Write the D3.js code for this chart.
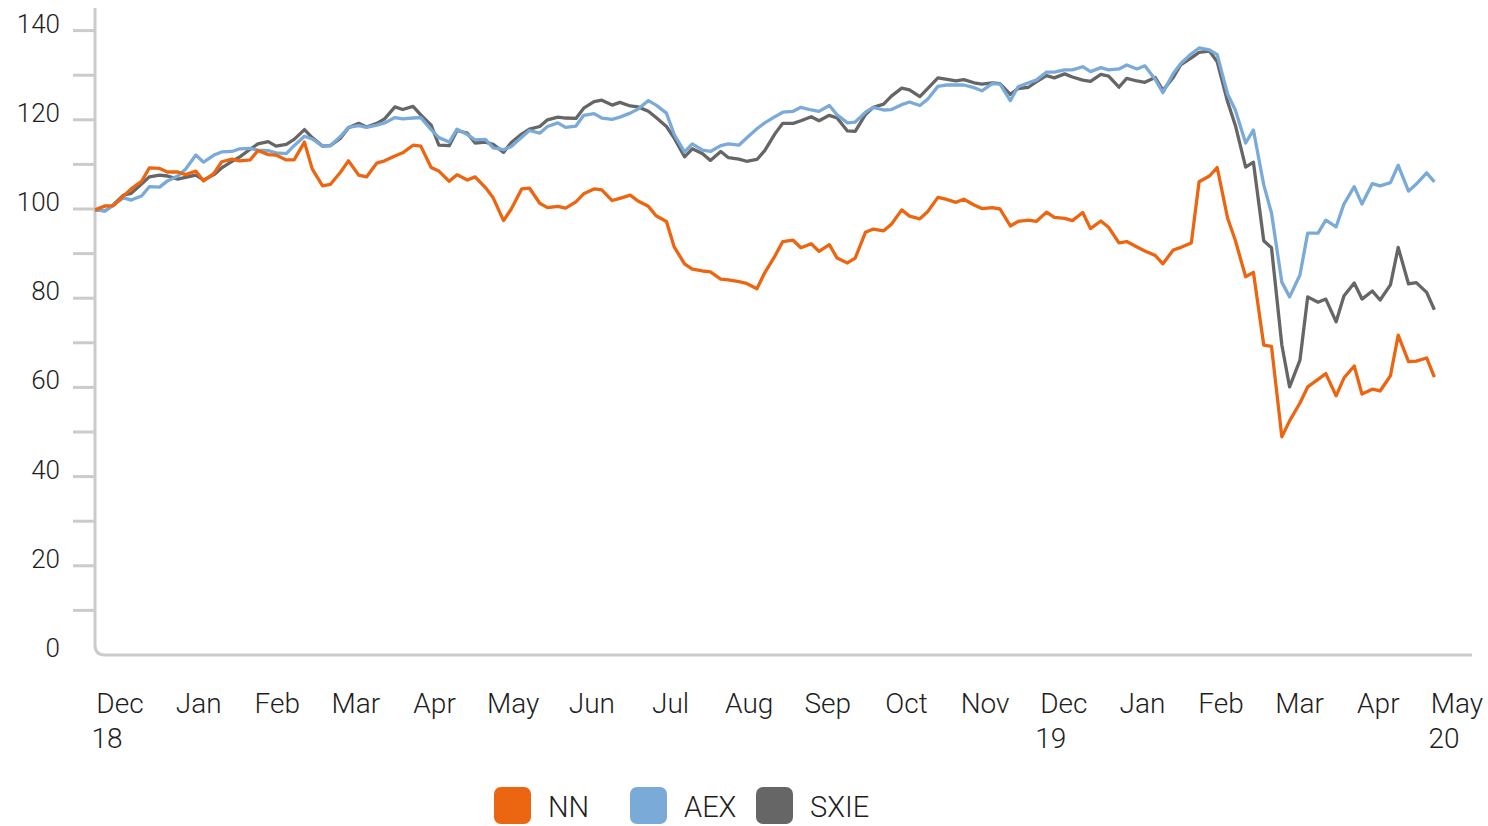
<!DOCTYPE html>
<html>
<head>
<meta charset="utf-8">
<script src="https://cdn.jsdelivr.net/npm/d3@7"></script>
<style>
  html, body { margin: 0; padding: 0; background: #fff; }
  svg text { font-family: Roboto, "Open Sans", sans-serif; font-weight: 300; fill: #1e1e1e; }
</style>
</head>
<body>
<div id="chart"></div>
<script>
// trading dates sampled twice a week (Tue + Fri), 30 Nov 2018 .. 1 May 2020
const dates = d3.utcDay.range(new Date("2018-11-30"), new Date("2020-05-02"))
    .filter(d => d.getUTCDay() === 2 || d.getUTCDay() === 5);

const nnValues = [
  99.8, 100.7, 100.7, 102.9, 104.5, 106.2, 109.2, 109.1, 108.3, 108.3,
  107.7, 108.5, 106.3, 108.0, 110.6, 111.2, 110.8, 111.0, 113.1, 112.2,
  112.1, 111.0, 111.0, 115.0, 109.0, 105.2, 105.5, 108.3, 110.8, 107.6,
  107.2, 110.3, 110.8, 111.9, 112.6, 114.3, 114.1, 109.3, 108.5, 106.2,
  107.7, 106.5, 107.2, 104.8, 102.5, 97.4, 100.0, 104.5, 104.7, 101.3,
  100.3, 100.6, 100.2, 101.6, 103.4, 104.5, 104.3, 101.9, 102.4, 103.1,
  101.8, 100.6, 98.5, 97.2, 91.5, 87.7, 86.5, 86.1, 85.9, 84.3,
  84.1, 83.7, 83.3, 82.1, 85.7, 89.5, 92.7, 93.0, 91.3, 92.2,
  90.5, 92.0, 89.0, 87.9, 89.0, 94.8, 95.5, 95.1, 96.6, 99.8,
  98.4, 97.8, 99.4, 102.6, 102.2, 101.5, 102.2, 100.9, 100.1, 100.3,
  100.0, 96.2, 97.2, 97.5, 97.2, 99.3, 98.1, 97.9, 97.4, 99.2,
  95.6, 97.3, 95.9, 92.4, 92.7, 91.5, 90.6, 89.6, 87.7, 90.8,
  91.4, 92.4, 106.1, 107.4, 109.3, 98.0, 93.0, 84.8, 85.8, 69.5,
  69.2, 48.9, 52.5, 56.5, 60.1, 61.8, 63.1, 58.1, 62.1, 64.8,
  58.5, 59.6, 59.2, 62.6, 71.7, 65.8, 65.9, 66.6, 62.3
];

const aexValues = [
  99.8, 99.6, 100.9, 102.5, 102.0, 102.9, 105.0, 104.9, 106.3, 107.4,
  108.9, 112.1, 110.5, 112.1, 112.8, 112.9, 113.5, 113.6, 113.2, 113.1,
  112.6, 112.4, 114.2, 116.3, 115.7, 114.1, 114.2, 116.3, 118.3, 118.7,
  118.3, 118.8, 119.3, 120.5, 120.2, 120.4, 120.5, 117.8, 116.0, 115.0,
  117.9, 116.7, 115.5, 115.6, 113.7, 113.3, 114.0, 116.1, 117.6, 117.0,
  118.5, 119.3, 118.3, 118.6, 121.0, 121.4, 120.4, 120.1, 120.6, 121.5,
  122.4, 124.3, 123.3, 121.5, 116.7, 112.8, 114.6, 113.2, 112.9, 114.2,
  114.6, 114.3, 115.9, 118.0, 119.3, 120.7, 121.7, 121.9, 122.8, 122.2,
  121.9, 123.2, 121.1, 119.3, 119.5, 121.7, 122.8, 122.2, 122.3, 123.4,
  124.0, 123.2, 124.6, 127.5, 127.8, 127.8, 127.8, 127.2, 126.5, 128.1,
  128.0, 124.3, 127.4, 128.3, 128.9, 130.7, 130.7, 131.2, 131.2, 131.9,
  130.8, 131.7, 131.2, 131.4, 132.3, 131.4, 132.1, 129.1, 126.1, 130.4,
  132.7, 134.8, 136.1, 135.7, 134.6, 125.8, 122.2, 114.8, 117.7, 105.4,
  99.1, 83.6, 80.3, 85.2, 94.6, 94.6, 97.5, 96.0, 101.1, 105.0,
  101.1, 105.7, 105.2, 105.9, 109.8, 104.0, 105.6, 108.1, 106.1
];

const sxieValues = [
  99.8, 99.6, 100.9, 103.1, 103.5, 105.6, 107.2, 107.6, 107.4, 106.7,
  107.1, 107.6, 106.5, 107.7, 109.2, 110.7, 111.7, 113.4, 114.6, 115.1,
  114.1, 114.5, 115.6, 117.8, 116.0, 114.1, 114.2, 115.9, 118.2, 119.2,
  118.4, 119.2, 120.2, 122.9, 122.3, 123.0, 121.1, 118.8, 114.3, 114.2,
  117.6, 117.0, 114.8, 115.0, 114.5, 112.7, 114.9, 116.8, 117.9, 118.5,
  120.0, 120.6, 120.4, 120.3, 122.6, 124.1, 124.4, 123.3, 123.9, 123.1,
  122.9, 121.9, 120.5, 118.5, 115.9, 111.7, 113.5, 112.4, 110.9, 112.9,
  111.5, 111.2, 110.7, 111.1, 113.1, 116.9, 119.2, 119.2, 119.8, 120.7,
  119.8, 121.0, 120.4, 117.5, 117.4, 121.2, 122.8, 123.5, 125.3, 127.1,
  126.7, 125.2, 127.0, 129.4, 129.1, 128.7, 129.0, 128.3, 128.0, 128.3,
  128.1, 125.7, 127.0, 127.3, 128.5, 129.9, 129.4, 130.3, 129.6, 128.9,
  128.6, 130.2, 129.8, 127.3, 129.3, 128.7, 128.4, 129.5, 126.6, 129.5,
  132.4, 133.9, 135.1, 135.4, 133.0, 124.1, 118.8, 109.4, 110.5, 92.9,
  91.3, 69.5, 60.1, 66.1, 80.3, 79.1, 79.8, 74.7, 80.5, 83.4,
  79.8, 81.6, 79.6, 83.0, 91.4, 83.2, 83.5, 81.3, 77.4
];

const seriesNames = ["NN", "AEX", "SXIE"];
const seriesColors = ["#ec6510", "#7aaad8", "#666666"];

const yTicks = [0, 20, 40, 60, 80, 100, 120, 140];
const yMinorTicks = [10, 20, 30, 40, 50, 60, 70, 80, 90, 100, 110, 120, 130, 140];
const monthLabels = ["Dec", "Jan", "Feb", "Mar", "Apr", "May", "Jun", "Jul", "Aug",
                     "Sep", "Oct", "Nov", "Dec", "Jan", "Feb", "Mar", "Apr", "May"];
const yearLabels = [[0, "18"], [12, "19"], [17, "20"]];

const WIDTH = 1488, HEIGHT = 826;
const AXIS_COLOR = "#cbcbcb";
const plot = {x0: 95, x1: 1434.4, y0: 655, y1: 30.6};

var svg = d3.select("#chart").append("svg")
    .attr("width", WIDTH)
    .attr("height", HEIGHT);

var x = d3.scaleUtc().domain(d3.extent(dates)).range([plot.x0, plot.x1]);
var y = d3.scaleLinear().domain([0, 140]).range([plot.y0, plot.y1]);
var xLabel = d3.scalePoint().domain(d3.range(monthLabels.length)).range([120, 1457]);

// y ticks (every 10) and labels (every 20)
svg.append("g").selectAll("line")
    .data(yMinorTicks)
    .join("line")
    .attr("x1", 73).attr("x2", plot.x0)
    .attr("y1", d => y(d)).attr("y2", d => y(d))
    .attr("stroke", AXIS_COLOR)
    .attr("stroke-width", 3);

svg.append("g").selectAll("text")
    .data(yTicks)
    .join("text")
    .attr("x", 60)
    .attr("y", d => y(d) + 2)
    .attr("text-anchor", "end")
    .style("font-size", "26px")
    .text(d => d);

// axis frame with a rounded corner
var frame = d3.path();
frame.moveTo(plot.x0, 8);
frame.lineTo(plot.x0, plot.y0 - 10);
frame.quadraticCurveTo(plot.x0, plot.y0, plot.x0 + 10, plot.y0);
frame.lineTo(1472, plot.y0);
svg.append("path")
    .attr("d", frame.toString())
    .attr("fill", "none")
    .attr("stroke", AXIS_COLOR)
    .attr("stroke-width", 3);

// month labels
svg.append("g").selectAll("text")
    .data(monthLabels)
    .join("text")
    .attr("x", (d, i) => xLabel(i))
    .attr("y", 713)
    .attr("text-anchor", "middle")
    .style("font-size", "28px")
    .text(d => d);

svg.append("g").selectAll("text")
    .data(yearLabels)
    .join("text")
    .attr("x", d => xLabel(d[0]) - 13)
    .attr("y", 748)
    .attr("text-anchor", "middle")
    .style("font-size", "28px")
    .text(d => d[1]);

// lines, NN drawn last so it sits on top
var line = d3.line()
    .x((d, i) => x(dates[i]))
    .y(d => y(d));

var allSeries = [nnValues, aexValues, sxieValues];
[2, 1, 0].forEach(k => {
    svg.append("path")
        .datum(allSeries[k])
        .attr("d", line)
        .attr("fill", "none")
        .attr("stroke", seriesColors[k])
        .attr("stroke-width", 3.3)
        .attr("stroke-linejoin", "round");
});

// legend
const legendX = [494, 630, 756];
var legend = svg.append("g").selectAll("g")
    .data(seriesNames)
    .join("g")
    .attr("transform", (d, i) => "translate(" + legendX[i] + ",787)");

legend.append("rect")
    .attr("width", 37).attr("height", 37)
    .attr("rx", 7)
    .attr("fill", (d, i) => seriesColors[i]);

legend.append("text")
    .attr("x", 54)
    .attr("y", 30)
    .style("font-size", "29px")
    .text(d => d);
</script>
</body>
</html>
